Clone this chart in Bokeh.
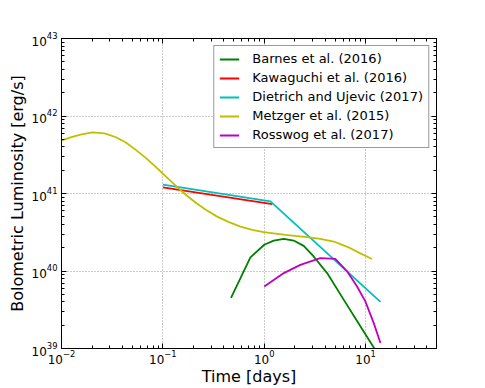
from bokeh.plotting import figure
from bokeh.models import LogAxis, Legend, LegendItem, CustomJSTickFormatter, LogTicker
from bokeh.embed import file_html
from bokeh.resources import INLINE

# ---- data ----
barnes_t = [0.47, 0.73, 1.0, 1.24, 1.56, 1.95, 2.45, 3.07, 4.17, 6.07, 8.87, 12.5]
barnes_L = [4.5e39, 1.5e40, 2.18e40, 2.47e40, 2.6e40, 2.47e40, 2.11e40, 1.54e40, 9.4e39, 4.27e39, 1.94e39, 9.5e38]

kawaguchi_t = [0.1, 1.2]
kawaguchi_L = [1.2e41, 7.3e40]

dietrich_t = [0.1, 1.15, 14.0]
dietrich_L = [1.3e41, 7.9e40, 4.0e39]

metzger_t = [0.0100, 0.01227, 0.01539, 0.02022, 0.02654, 0.03406, 0.04276, 0.05366, 0.06734,
             0.0845, 0.106, 0.133, 0.1669, 0.2095, 0.2629, 0.3428, 0.443, 0.5816, 0.764,
             0.987, 1.616, 2.645, 3.577, 4.838, 6.07, 7.07, 8.87, 11.57]
metzger_L = [4.83e41, 5.30e41, 5.74e41, 6.13e41, 5.97e41, 5.36e41, 4.59e41, 3.68e41, 2.90e41,
             2.22e41, 1.68e41, 1.27e41, 9.71e40, 7.66e40, 6.23e40, 5.03e40, 4.30e40, 3.74e40, 3.39e40,
             3.18e40, 2.93e40, 2.73e40, 2.60e40, 2.40e40, 2.14e40, 1.97e40, 1.69e40, 1.43e40]

rosswog_t = [1.0, 1.56, 2.27, 3.57, 5.02, 6.56, 8.23, 9.93, 12.0, 14.0]
rosswog_L = [6.3e39, 9.4e39, 1.2e40, 1.47e40, 1.43e40, 9.9e39, 6.3e39, 4.05e39, 2.14e39, 1.18e39]

labels = ["Barnes et al. (2016)", "Kawaguchi et al. (2016)", "Dietrich and Ujevic (2017)",
          "Metzger et al. (2015)", "Rosswog et al. (2017)"]
colors = ["#008000", "#ff0000", "#00bfbf", "#bfbf00", "#bf00bf"]

x_range = (1e-2, 50)
y_range = (1e39, 1e43)

FONT = "DejaVu Sans"

p = figure(width=480, height=388, x_axis_type="log", y_axis_type="log",
           x_range=x_range, y_range=y_range,
           output_backend="svg", toolbar_location=None,
           min_border_left=61, min_border_right=44, min_border_top=38, min_border_bottom=39)

p.outline_line_color = "black"
p.outline_line_width = 1
p.background_fill_color = "white"
p.border_fill_color = "white"

series = [(barnes_t, barnes_L), (kawaguchi_t, kawaguchi_L), (dietrich_t, dietrich_L),
          (metzger_t, metzger_L), (rosswog_t, rosswog_L)]
renderers = []
for (t, L), c in zip(series, colors):
    r = p.line(t, L, line_color=c, line_width=1.8)
    renderers.append(r)


def style_axis(ax, show_labels=True):
    ax.axis_line_color = "black"
    ax.major_tick_in = 5
    ax.major_tick_out = 0
    ax.minor_tick_in = 3
    ax.minor_tick_out = 0
    ax.major_tick_line_color = "black"
    ax.minor_tick_line_color = "black"
    ax.major_label_text_font = FONT
    ax.major_label_text_font_size = "12px"
    ax.major_label_text_color = "black"
    ax.major_label_standoff = 4
    ax.axis_label_text_font = FONT
    ax.axis_label_text_font_size = "16px"
    ax.axis_label_text_font_style = "normal"
    ax.axis_label_text_color = "black"
    ax.axis_label_standoff = 2
    if not show_labels:
        ax.formatter = CustomJSTickFormatter(code="return ''")


p.xaxis.axis_label = "Time [days]"
p.yaxis.axis_label = "Bolometric Luminosity [erg/s]"
style_axis(p.xaxis[0])
style_axis(p.yaxis[0])
p.xaxis.major_label_standoff = 1
p.xaxis.axis_label_standoff = 0
p.xaxis.ticker = LogTicker(num_minor_ticks=10)
p.yaxis.ticker = LogTicker(num_minor_ticks=10)

top = LogAxis(ticker=LogTicker(num_minor_ticks=10))
right = LogAxis(ticker=LogTicker(num_minor_ticks=10))
style_axis(top, show_labels=False)
style_axis(right, show_labels=False)
top.major_label_text_font_size = "1px"
right.major_label_text_font_size = "1px"
p.add_layout(top, "above")
p.add_layout(right, "right")

for g in (p.xgrid[0], p.ygrid[0]):
    g.grid_line_color = "#999999"
    g.grid_line_dash = "1 2"
    g.grid_line_width = 1

legend = Legend(items=[LegendItem(label=l, renderers=[r]) for l, r in zip(labels, renderers)],
                location="top_right")
legend.margin = 7
legend.padding = 5
legend.spacing = 4
legend.label_height = 14
legend.glyph_height = 14
legend.glyph_width = 20
legend.label_standoff = 13
legend.label_text_font = FONT
legend.label_text_font_size = "13px"
legend.label_text_color = "black"
legend.border_line_color = "#333333"
legend.border_line_width = 1
legend.background_fill_color = "white"
legend.background_fill_alpha = 1
p.add_layout(legend, "center")

open("out.html", "w").write(file_html(p, INLINE))
